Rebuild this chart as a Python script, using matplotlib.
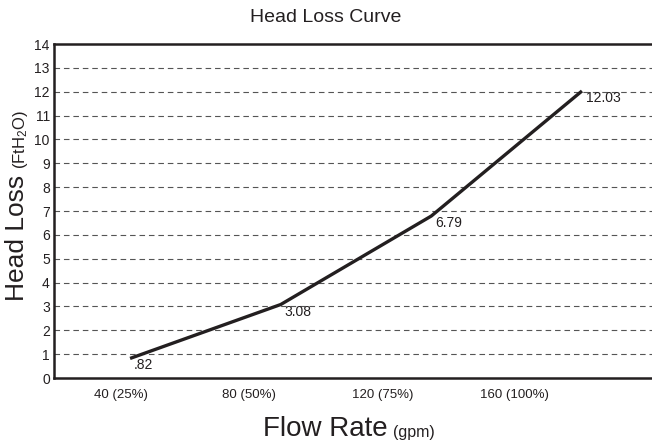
import matplotlib
matplotlib.use("Agg")
import matplotlib.pyplot as plt

plt.rcParams["font.family"] = ["Liberation Sans", "DejaVu Sans"]
plt.rcParams["mathtext.fontset"] = "custom"
plt.rcParams["mathtext.rm"] = "Liberation Sans"

# data
flow = [40, 80, 120, 160]
head_loss = [0.82, 3.08, 6.79, 12.03]
point_labels = [".82", "3.08", "6.79", "12.03"]
tick_pos = [37.5, 71.5, 107, 142]
tick_labels = ["40 (25%)", "80 (50%)", "120 (75%)", "160 (100%)"]

ink = "#231f20"

fig = plt.figure(figsize=(6.52, 4.43), dpi=100)
ax = fig.add_axes([54 / 652, 65 / 443, 1 - 54 / 652, 334 / 443])

ax.plot(flow, head_loss, color=ink, lw=2.4, solid_capstyle="butt", zorder=3)
for x, y, s in zip(flow, head_loss, point_labels):
    ax.annotate(s, (x, y), xytext=(3, 0), textcoords="offset points",
                ha="left", va="top", fontsize=10, color=ink)

ax.set_xlim(19.8, 178.6)
ax.set_ylim(0, 14)
ax.set_yticks(range(15))
ax.set_xticks(tick_pos)
ax.set_xticklabels(tick_labels)
ax.tick_params(length=0, labelsize=9.5, colors=ink)
ax.tick_params(axis="y", pad=3, labelsize=10)
ax.tick_params(axis="x", pad=8)

for y in range(1, 14):
    ax.axhline(y, color="#555555", lw=0.8, ls=(0, (5, 3.5)), zorder=1)

ax.spines["right"].set_visible(False)
for s in ["left", "top", "bottom"]:
    ax.spines[s].set_linewidth(1.8)
    ax.spines[s].set_color(ink)

fig.text(0.5, 1 - 18 / 443, "Head Loss Curve", ha="center", va="center",
         fontsize=14, color=ink)

# two-size axis labels
fig.canvas.draw()
r = fig.canvas.get_renderer()

t1 = fig.text(263 / 652, 1 - 429 / 443, "Flow Rate", ha="left", va="center",
              fontsize=20, color=ink)
bb = t1.get_window_extent(r)
fig.text((bb.x1 + 5) / 652, 1 - 432 / 443, "(gpm)", ha="left", va="center",
         fontsize=11.5, color=ink)

t2 = fig.text(17 / 652, 1 - 301 / 443, "Head Loss", rotation=90, ha="center",
              va="bottom", fontsize=19, color=ink)
bb = t2.get_window_extent(r)
fig.text(20 / 652, (bb.y1 + 6) / 443, r"(FtH$\mathregular{_2}$O)", rotation=90,
         ha="center", va="bottom", fontsize=12, color=ink)

fig.savefig("out.png", dpi=100)
